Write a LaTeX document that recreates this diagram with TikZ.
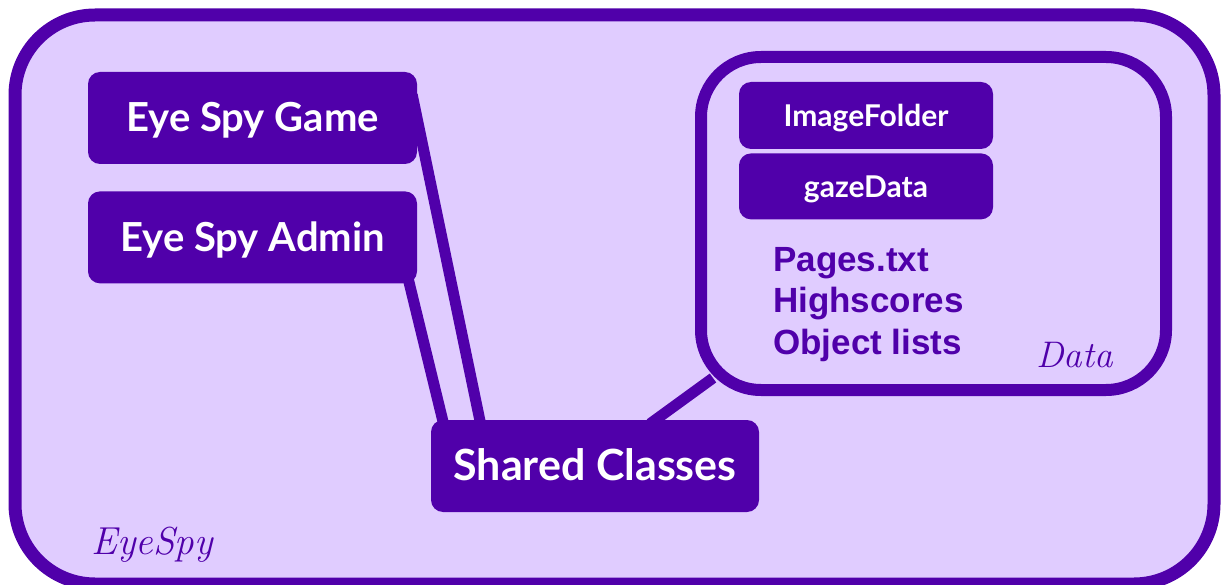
\documentclass[tikz,border=0pt]{standalone}
\usepackage{fontspec}
\setmainfont{Liberation Sans}
\newfontfamily\boxfont{Lato}
\newfontfamily\lmfont{Latin Modern Roman}
\usetikzlibrary{positioning, backgrounds}

\definecolor{spypurple}{RGB}{80,0,170}
\definecolor{spylilac}{RGB}{224,204,255}

\tikzset{
  frame/.style = {draw=spypurple, fill=spylilac, line width=13pt, rounded corners=80pt},
  block/.style = {fill=spypurple, text=white, rounded corners=12pt, inner sep=0pt,
    font=\boxfont\bfseries\fontsize{40}{46}\selectfont, text height=28pt, text depth=0pt},
  small block/.style = {block, font=\boxfont\bfseries\fontsize{30}{36}\selectfont, text height=22pt},
  link/.style = {draw=spypurple, line width=11pt},
  tag/.style = {text=spypurple, inner sep=0pt, anchor=base west, font=\lmfont\itshape\fontsize{37}{40}\selectfont},
}

\begin{document}
\begin{tikzpicture}[x=1pt, y=-1pt]
  \useasboundingbox (0,0) rectangle (1221,585);

  % frames sit behind everything
  \begin{scope}[on background layer]
    \node[frame, minimum width=1199, minimum height=569] (eyespy) at (614.5,299.5) {};
    \node[frame, line width=12pt, rounded corners=60pt,
          minimum width=465, minimum height=333] (data) at (933.5,223.5) {};
  \end{scope}

  % programs
  \node[block, minimum width=329, minimum height=92] (game) at (252.5,118) {Eye Spy Game};
  \node[block, minimum width=329, minimum height=92, below=27pt of game] (admin) {Eye Spy Admin};
  \node[block, minimum width=328, minimum height=92, font=\boxfont\bfseries\fontsize{43}{48}\selectfont]
    (shared) at (595,466) {Shared Classes};

  % data folder
  \node[small block, minimum width=254, minimum height=67] (images) at (866,115.5) {ImageFolder};
  \node[small block, minimum width=254, minimum height=66, below=4pt of images] (gaze) {gazeData};
  \node[tag, align=left, font=\bfseries\fontsize{35}{42}\selectfont] (files) at (773,355)
    {Pages.txt\\Highscores\\Object lists};
  \node[tag] (datalabel) at (1036,367) {Data};
  \node[tag, font=\lmfont\itshape\fontsize{39}{40}\selectfont] (eyespylabel) at (91,554) {EyeSpy};

  % links
  \begin{scope}[on background layer]
    \draw[link] ([shift={(-5,23)}]game.north east) -- ([shift={(50,5)}]shared.north west);
    \draw[link] ([shift={(-11,-13)}]admin.south east) -- ([shift={(13,5)}]shared.north west);
    \draw[link] ([shift={(18,-18)}]data.south west) -- ([shift={(55,4)}]shared.north);
  \end{scope}
\end{tikzpicture}
\end{document}
